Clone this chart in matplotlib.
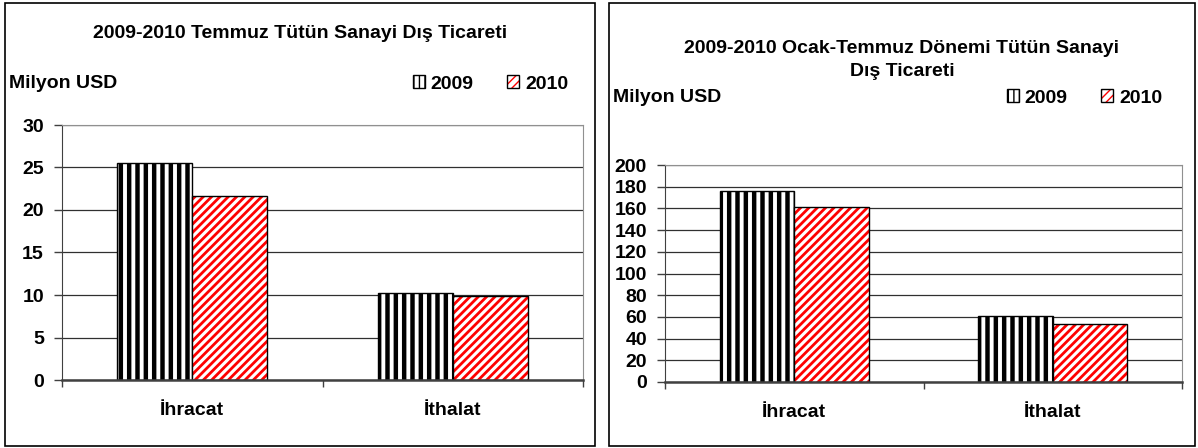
import matplotlib
matplotlib.use("Agg")
import matplotlib.pyplot as plt
from matplotlib.patches import Patch, Rectangle
from matplotlib.legend_handler import HandlerTuple
import numpy as np

plt.rcParams['font.family'] = ['Liberation Sans', 'DejaVu Sans']
plt.rcParams['font.weight'] = 'bold'

categories = ['İhracat', 'İthalat']
years = ['2009', '2010']

# Temmuz (milyon USD)
temmuz_2009 = [25.5, 10.2]
temmuz_2010 = [21.7, 9.9]

# Ocak-Temmuz (milyon USD)
ocak_temmuz_2009 = [176, 61]
ocak_temmuz_2010 = [161, 53]

titles = ['2009-2010 Temmuz Tütün Sanayi Dış Ticareti',
          '2009-2010 Ocak-Temmuz Dönemi Tütün Sanayi\nDış Ticareti']
y_max = [30, 200]
y_step = [5, 20]

W, H = 1198, 448
fig = plt.figure(figsize=(W / 100, H / 100), dpi=100)
FS = 14


def fx(px):
    return px / W


def fy(py):
    return 1 - py / H


def set_hlw(p, lw):
    if hasattr(p, 'set_hatch_linewidth'):
        p.set_hatch_linewidth(lw)


def draw_panel(box, axbox, title, title_y, label_y, leg_right,
               v09, v10, ymax, ystep):
    # panel frame
    x0, y0, x1, y1 = box
    fig.patches.append(Rectangle((fx(x0), fy(y1)), fx(x1 - x0), (y1 - y0) / H,
                                 transform=fig.transFigure, fill=False,
                                 edgecolor='black', linewidth=1.2))
    ax0, ay0, ax1, ay1 = axbox
    ax = fig.add_axes([fx(ax0), fy(ay1), fx(ax1 - ax0), (ay1 - ay0) / H])

    x = np.arange(len(categories))
    w = 0.288
    b1 = ax.bar(x - w / 2, v09, w, color='white', edgecolor='black',
                hatch='||', linewidth=1, zorder=3)
    for p in b1:
        set_hlw(p, 3.2)
    b2 = ax.bar(x + w / 2, v10, w, color='white', edgecolor='#ff0000',
                hatch='////', linewidth=0, zorder=3)
    for p in b2:
        set_hlw(p, 2.0)
    ax.bar(x + w / 2, v10, w, fill=False, edgecolor='black', linewidth=1,
           zorder=4)

    ax.set_xlim(-0.5, len(categories) - 0.5)
    ax.set_ylim(0, ymax)
    ax.set_yticks(np.arange(0, ymax + 1, ystep))
    ax.set_xticks(x)
    ax.set_xticklabels(categories, fontsize=FS, fontweight='bold')
    ax.set_xticks(np.arange(-0.5, len(categories)), minor=True)
    ax.tick_params(axis='x', which='major', length=0, pad=16)
    ax.tick_params(axis='x', which='minor', length=5, width=1, color='#404040')
    ax.tick_params(axis='y', length=6, width=1, color='#404040', pad=7,
                   labelsize=FS)
    for lab in ax.get_yticklabels():
        lab.set_fontweight('bold')
    ax.yaxis.grid(True, color='#303030', linewidth=0.9, zorder=0)
    ax.set_axisbelow(True)
    ax.spines['top'].set_color('#909090')
    ax.spines['right'].set_color('#909090')
    ax.spines['left'].set_color('#404040')
    ax.spines['bottom'].set_color('#404040')
    ax.spines['bottom'].set_linewidth(1.8)
    ax.spines['bottom'].set_zorder(5)

    fig.text(fx((x0 + x1) / 2), fy(title_y), title, ha='center', va='center',
             fontsize=FS, fontweight='bold', linespacing=1.45)
    fig.text(fx(x0 + 4), fy(label_y), 'Milyon USD', ha='left', va='center',
             fontsize=FS, fontweight='bold')

    h09 = Patch(facecolor='white', edgecolor='black', hatch='|||', linewidth=1)
    set_hlw(h09, 2.2)
    h10a = Patch(facecolor='white', edgecolor='#ff0000', hatch='////', linewidth=0)
    set_hlw(h10a, 1.8)
    h10b = Patch(fill=False, edgecolor='black', linewidth=1)
    fig.legend([h09, (h10a, h10b)], years, loc='center right',
               bbox_to_anchor=(fx(leg_right), fy(label_y)), ncol=2, frameon=False,
               handlelength=0.62, handleheight=0.6, handletextpad=0.28,
               columnspacing=1.75, borderaxespad=0, borderpad=0,
               prop={'size': FS, 'weight': 'bold'},
               handler_map={tuple: HandlerTuple(ndivide=1, pad=0)})
    return ax


draw_panel((5, 3, 595, 446), (62, 125, 583, 380), titles[0], 33, 84, 568,
           temmuz_2009, temmuz_2010, y_max[0], y_step[0])
draw_panel((609, 3, 1195, 446), (665, 165, 1182, 382), titles[1], 60, 98, 1162,
           ocak_temmuz_2009, ocak_temmuz_2010, y_max[1], y_step[1])

fig.savefig('out.png', dpi=100)
